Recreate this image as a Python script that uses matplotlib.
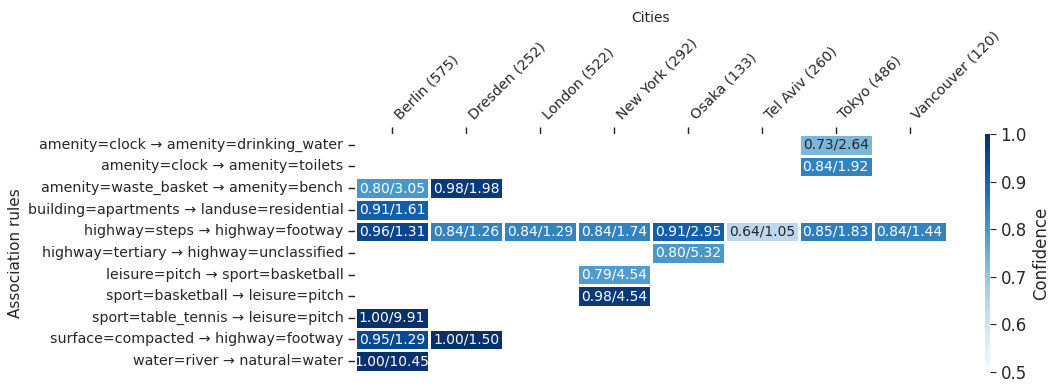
import numpy as np
import matplotlib
matplotlib.use("Agg")
import matplotlib.pyplot as plt
import seaborn as sns

# ── association rules mined per city: confidence / lift ──────────
cities = ["Berlin (575)", "Dresden (252)", "London (522)", "New York (292)",
          "Osaka (133)", "Tel Aviv (260)", "Tokyo (486)", "Vancouver (120)"]
rules = [
    "amenity=clock → amenity=drinking_water",
    "amenity=clock → amenity=toilets",
    "amenity=waste_basket → amenity=bench",
    "building=apartments → landuse=residential",
    "highway=steps → highway=footway",
    "highway=tertiary → highway=unclassified",
    "leisure=pitch → sport=basketball",
    "sport=basketball → leisure=pitch",
    "sport=table_tennis → leisure=pitch",
    "surface=compacted → highway=footway",
    "water=river → natural=water",
]
nan = np.nan
confidence = np.array([
    [nan, nan, nan, nan, nan, nan, 0.73, nan],
    [nan, nan, nan, nan, nan, nan, 0.84, nan],
    [0.80, 0.98, nan, nan, nan, nan, nan, nan],
    [0.91, nan, nan, nan, nan, nan, nan, nan],
    [0.96, 0.84, 0.84, 0.84, 0.91, 0.64, 0.85, 0.84],
    [nan, nan, nan, nan, 0.80, nan, nan, nan],
    [nan, nan, nan, 0.79, nan, nan, nan, nan],
    [nan, nan, nan, 0.98, nan, nan, nan, nan],
    [1.00, nan, nan, nan, nan, nan, nan, nan],
    [0.95, 1.00, nan, nan, nan, nan, nan, nan],
    [1.00, nan, nan, nan, nan, nan, nan, nan],
])
lift = np.array([
    [nan, nan, nan, nan, nan, nan, 2.64, nan],
    [nan, nan, nan, nan, nan, nan, 1.92, nan],
    [3.05, 1.98, nan, nan, nan, nan, nan, nan],
    [1.61, nan, nan, nan, nan, nan, nan, nan],
    [1.31, 1.26, 1.29, 1.74, 2.95, 1.05, 1.83, 1.44],
    [nan, nan, nan, nan, 5.32, nan, nan, nan],
    [nan, nan, nan, 4.54, nan, nan, nan, nan],
    [nan, nan, nan, 4.54, nan, nan, nan, nan],
    [9.91, nan, nan, nan, nan, nan, nan, nan],
    [1.29, 1.50, nan, nan, nan, nan, nan, nan],
    [10.45, nan, nan, nan, nan, nan, nan, nan],
])

# "conf/lift" text for every filled cell
labels = np.where(np.isnan(confidence), "",
                  np.char.add(np.char.add(np.char.mod("%.2f", confidence), "/"),
                              np.char.mod("%.2f", lift)))

sns.set_style("white")
fig = plt.figure(figsize=(10.6, 3.85), dpi=100)
ax = fig.add_axes([0.335, 0.034, 0.558, 0.618])
cax = fig.add_axes([0.929, 0.034, 0.005, 0.618])

sns.heatmap(confidence, ax=ax, cbar_ax=cax, cmap="Blues", vmin=0.5, vmax=1.0,
            annot=labels, fmt="", annot_kws={"fontsize": 10},
            linewidths=0.8, linecolor="white",
            xticklabels=cities, yticklabels=rules)

# city names along the top
ax.xaxis.tick_top()
ax.xaxis.set_label_position("top")
ax.tick_params(axis="both", which="major", length=5, width=1, color="#222222",
               labelsize=10.3, left=True, top=True, bottom=False)
plt.setp(ax.get_xticklabels(), rotation=45, ha="left")
plt.setp(ax.get_yticklabels(), rotation=0)
ax.set_xlabel("Cities", fontsize=10, labelpad=5)
ax.set_ylabel("Association rules", fontsize=11)
ax.yaxis.set_label_coords(-0.562, 0.5)

cax.tick_params(labelsize=12, length=4)
cax.set_ylabel("Confidence", fontsize=12)
for s in cax.spines.values():
    s.set_visible(False)

fig.savefig("out.png", dpi=100)
